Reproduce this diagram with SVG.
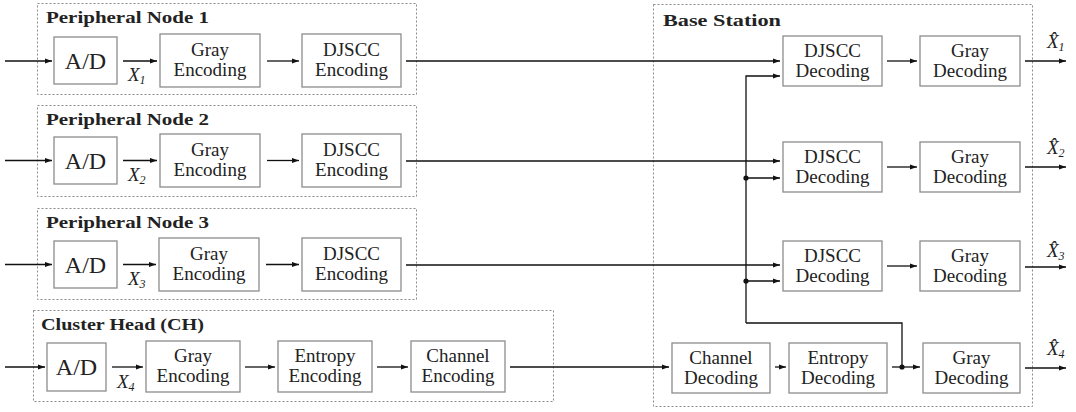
<svg xmlns="http://www.w3.org/2000/svg" width="1076" height="412" viewBox="0 0 1076 412">
<defs>
<marker id="ah" markerWidth="8" markerHeight="6" refX="7.5" refY="2.75" orient="auto" markerUnits="userSpaceOnUse">
<path d="M0,0 L7.5,2.75 L0,5.5 z" fill="#111"/>
</marker>
<style>
.grp{fill:none;stroke:#8a8a8a;stroke-width:1;stroke-dasharray:2 2}
.box{fill:#fff;stroke:#8c8c8c;stroke-width:1.3}
.t{font-size:19px;fill:#222;text-anchor:middle}
.ad{font-size:24px;fill:#222;text-anchor:middle}
.ttl{font-size:17px;font-weight:bold;fill:#222}
.v{font-style:italic;font-size:19px;fill:#222}
.sub{font-size:12px}
.c{fill:none;stroke:#111;stroke-width:1.3}
.a{marker-end:url(#ah)}
</style>
</defs>
<rect width="1076" height="412" fill="#fff"/>

<g id="pn1">
<rect class="grp" x="37.5" y="3.5" width="379" height="91"/>
<text class="ttl" font-family="Liberation Serif" x="46" y="23" textLength="163" lengthAdjust="spacingAndGlyphs">Peripheral Node 1</text>
<g id="pn1-ad"><rect class="box" x="54" y="37" width="63" height="47"/><text class="ad" font-family="Liberation Serif" x="85.5" y="69">A/D</text></g>
<g id="pn1-gray"><rect class="box" x="160" y="34" width="100" height="53"/><text class="t" font-family="Liberation Serif" x="210" y="56">Gray</text><text class="t" font-family="Liberation Serif" x="210" y="76">Encoding</text></g>
<g id="pn1-djscc"><rect class="box" x="302" y="34" width="99" height="53"/><text class="t" font-family="Liberation Serif" x="351.5" y="56">DJSCC</text><text class="t" font-family="Liberation Serif" x="351.5" y="76">Encoding</text></g>
<text class="v" font-family="Liberation Serif" x="128" y="81">X<tspan class="sub" dy="3">1</tspan></text>
</g>

<g id="pn2">
<rect class="grp" x="37.5" y="105.5" width="379" height="91"/>
<text class="ttl" font-family="Liberation Serif" x="46" y="125" textLength="163" lengthAdjust="spacingAndGlyphs">Peripheral Node 2</text>
<g id="pn2-ad"><rect class="box" x="54" y="137" width="63" height="47"/><text class="ad" font-family="Liberation Serif" x="85.5" y="169">A/D</text></g>
<g id="pn2-gray"><rect class="box" x="160" y="134" width="100" height="53"/><text class="t" font-family="Liberation Serif" x="210" y="156">Gray</text><text class="t" font-family="Liberation Serif" x="210" y="176">Encoding</text></g>
<g id="pn2-djscc"><rect class="box" x="302" y="134" width="99" height="53"/><text class="t" font-family="Liberation Serif" x="351.5" y="156">DJSCC</text><text class="t" font-family="Liberation Serif" x="351.5" y="176">Encoding</text></g>
<text class="v" font-family="Liberation Serif" x="128" y="181">X<tspan class="sub" dy="3">2</tspan></text>
</g>

<g id="pn3">
<rect class="grp" x="37.5" y="208.5" width="379" height="91"/>
<text class="ttl" font-family="Liberation Serif" x="46" y="228" textLength="163" lengthAdjust="spacingAndGlyphs">Peripheral Node 3</text>
<g id="pn3-ad"><rect class="box" x="54" y="241" width="63" height="47"/><text class="ad" font-family="Liberation Serif" x="85.5" y="273">A/D</text></g>
<g id="pn3-gray"><rect class="box" x="159" y="238" width="100" height="53"/><text class="t" font-family="Liberation Serif" x="209" y="260">Gray</text><text class="t" font-family="Liberation Serif" x="209" y="280">Encoding</text></g>
<g id="pn3-djscc"><rect class="box" x="302" y="238" width="99" height="53"/><text class="t" font-family="Liberation Serif" x="351.5" y="260">DJSCC</text><text class="t" font-family="Liberation Serif" x="351.5" y="280">Encoding</text></g>
<text class="v" font-family="Liberation Serif" x="128" y="285">X<tspan class="sub" dy="3">3</tspan></text>
</g>

<g id="ch">
<rect class="grp" x="33.5" y="310.5" width="520" height="91"/>
<text class="ttl" font-family="Liberation Serif" x="41" y="330" textLength="163" lengthAdjust="spacingAndGlyphs">Cluster Head (CH)</text>
<g id="ch-ad"><rect class="box" x="47" y="343" width="59" height="48"/><text class="ad" font-family="Liberation Serif" x="76.5" y="375">A/D</text></g>
<g id="ch-gray"><rect class="box" x="146" y="341" width="94" height="51"/><text class="t" font-family="Liberation Serif" x="193" y="362">Gray</text><text class="t" font-family="Liberation Serif" x="193" y="382">Encoding</text></g>
<g id="ch-entropy"><rect class="box" x="278" y="341" width="94" height="51"/><text class="t" font-family="Liberation Serif" x="325" y="362">Entropy</text><text class="t" font-family="Liberation Serif" x="325" y="382">Encoding</text></g>
<g id="ch-channel"><rect class="box" x="411" y="341" width="94" height="51"/><text class="t" font-family="Liberation Serif" x="458" y="362">Channel</text><text class="t" font-family="Liberation Serif" x="458" y="382">Encoding</text></g>
<text class="v" font-family="Liberation Serif" x="117" y="388">X<tspan class="sub" dy="3">4</tspan></text>
</g>

<g id="bs">
<rect class="grp" x="653.5" y="4.5" width="379" height="402"/>
<text class="ttl" font-family="Liberation Serif" x="663" y="26" textLength="118" lengthAdjust="spacingAndGlyphs">Base Station</text>
<g id="bs-djscc1"><rect class="box" x="783" y="36" width="99" height="50"/><text class="t" font-family="Liberation Serif" x="832.5" y="57">DJSCC</text><text class="t" font-family="Liberation Serif" x="832.5" y="77">Decoding</text></g>
<g id="bs-gray1"><rect class="box" x="920" y="36" width="100" height="50"/><text class="t" font-family="Liberation Serif" x="970" y="57">Gray</text><text class="t" font-family="Liberation Serif" x="970" y="77">Decoding</text></g>
<g id="bs-djscc2"><rect class="box" x="783" y="142" width="99" height="50"/><text class="t" font-family="Liberation Serif" x="832.5" y="163">DJSCC</text><text class="t" font-family="Liberation Serif" x="832.5" y="183">Decoding</text></g>
<g id="bs-gray2"><rect class="box" x="920" y="142" width="100" height="50"/><text class="t" font-family="Liberation Serif" x="970" y="163">Gray</text><text class="t" font-family="Liberation Serif" x="970" y="183">Decoding</text></g>
<g id="bs-djscc3"><rect class="box" x="783" y="241" width="99" height="50"/><text class="t" font-family="Liberation Serif" x="832.5" y="262">DJSCC</text><text class="t" font-family="Liberation Serif" x="832.5" y="282">Decoding</text></g>
<g id="bs-gray3"><rect class="box" x="920" y="241" width="100" height="50"/><text class="t" font-family="Liberation Serif" x="970" y="262">Gray</text><text class="t" font-family="Liberation Serif" x="970" y="282">Decoding</text></g>
<g id="bs-channel"><rect class="box" x="672" y="343" width="98" height="50"/><text class="t" font-family="Liberation Serif" x="721" y="364">Channel</text><text class="t" font-family="Liberation Serif" x="721" y="384">Decoding</text></g>
<g id="bs-entropy"><rect class="box" x="789" y="343" width="98" height="50"/><text class="t" font-family="Liberation Serif" x="838" y="364">Entropy</text><text class="t" font-family="Liberation Serif" x="838" y="384">Decoding</text></g>
<g id="bs-gray4"><rect class="box" x="923" y="343" width="97" height="50"/><text class="t" font-family="Liberation Serif" x="971.5" y="364">Gray</text><text class="t" font-family="Liberation Serif" x="971.5" y="384">Decoding</text></g>
</g>

<g id="outputs">
<text class="v" font-family="Liberation Serif" x="1047" y="48">X̂<tspan class="sub" dy="3">1</tspan></text>
<text class="v" font-family="Liberation Serif" x="1047" y="154">X̂<tspan class="sub" dy="3">2</tspan></text>
<text class="v" font-family="Liberation Serif" x="1047" y="257">X̂<tspan class="sub" dy="3">3</tspan></text>
<text class="v" font-family="Liberation Serif" x="1047" y="355">X̂<tspan class="sub" dy="3">4</tspan></text>
</g>

<g id="connectors">
<line class="c a" x1="5" y1="61" x2="52" y2="61"/>
<line class="c a" x1="123" y1="61" x2="157" y2="61"/>
<line class="c a" x1="267" y1="61" x2="299" y2="61"/>
<line class="c a" x1="406" y1="61" x2="780" y2="61"/>
<line class="c a" x1="887" y1="61" x2="917" y2="61"/>
<line class="c a" x1="1025" y1="61" x2="1066" y2="61"/>
<line class="c a" x1="5" y1="160.5" x2="52" y2="160.5"/>
<line class="c a" x1="123" y1="160.5" x2="157" y2="160.5"/>
<line class="c a" x1="267" y1="160.5" x2="299" y2="160.5"/>
<line class="c a" x1="406" y1="161" x2="780" y2="161"/>
<line class="c a" x1="887" y1="167" x2="917" y2="167"/>
<line class="c a" x1="1025" y1="167" x2="1066" y2="167"/>
<line class="c a" x1="5" y1="264.5" x2="52" y2="264.5"/>
<line class="c a" x1="123" y1="264.5" x2="156" y2="264.5"/>
<line class="c a" x1="266" y1="264.5" x2="299" y2="264.5"/>
<line class="c a" x1="406" y1="265" x2="780" y2="265"/>
<line class="c a" x1="887" y1="266" x2="917" y2="266"/>
<line class="c a" x1="1025" y1="267" x2="1066" y2="267"/>
<line class="c a" x1="5" y1="367" x2="45" y2="367"/>
<line class="c a" x1="112" y1="367" x2="143" y2="367"/>
<line class="c a" x1="245" y1="367" x2="275" y2="367"/>
<line class="c a" x1="377" y1="367" x2="408" y2="367"/>
<line class="c a" x1="510" y1="367" x2="669" y2="367"/>
<line class="c a" x1="775" y1="367" x2="786" y2="367"/>
<line class="c a" x1="892" y1="367" x2="920" y2="367"/>
<line class="c a" x1="1025" y1="368" x2="1066" y2="368"/>
<polyline class="c a" points="746,323 746,76 780,76"/>
<line class="c a" x1="746" y1="178" x2="780" y2="178"/>
<line class="c a" x1="746" y1="281" x2="780" y2="281"/>
<polyline class="c" points="746,323 902,323 902,367"/>
<circle cx="746" cy="178" r="2.6" fill="#111"/>
<circle cx="746" cy="281" r="2.6" fill="#111"/>
<circle cx="902" cy="367" r="2.6" fill="#111"/>
</g>
</svg>
